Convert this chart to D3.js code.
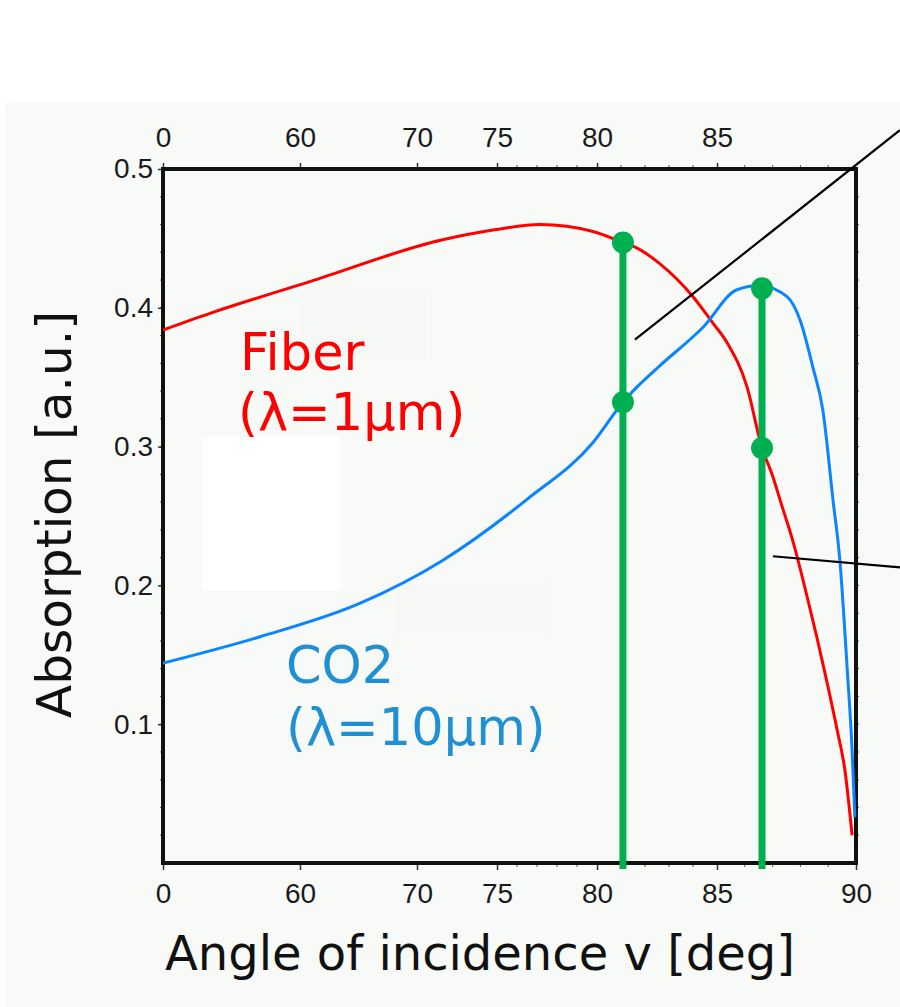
<!DOCTYPE html>
<html>
<head>
<meta charset="utf-8">
<script src="https://cdn.jsdelivr.net/npm/d3@7"></script>
<style>
  body { margin: 0; background: #fff; }
  svg { display: block; }
</style>
</head>
<body>
<script>
// tick labels on the (non linear) angle axis
const angleTicks = [0, 60, 70, 75, 80, 85, 90];
const angleMinor = [76, 77, 78, 79, 81, 82, 83, 84, 86, 87, 88, 89];
const absTicks = [0.1, 0.2, 0.3, 0.4, 0.5];

// Fiber laser (1 um)
const fiberAngle = [0, 20.6, 60.9, 71.6, 74.75, 77.15, 79.8, 81.08, 81.67, 82.6, 84.0, 84.83, 85.36, 86.08, 86.62, 86.98, 87.34, 87.7, 88.24, 88.6, 88.96, 89.32, 89.6, 89.86];
const fiberAbs   = [0.384, 0.396, 0.419, 0.449, 0.456, 0.460, 0.455, 0.447, 0.443, 0.432, 0.408, 0.389, 0.375, 0.343, 0.299, 0.280, 0.257, 0.234, 0.192, 0.162, 0.130, 0.096, 0.067, 0.020];

// CO2 laser (10 um)
const co2Angle = [0, 42.5, 65.1, 71.6, 76.5, 79.8, 81.08, 81.67, 82.6, 84.42, 85.72, 86.55, 87.52, 87.99, 88.45, 88.81, 89.17, 89.42, 89.68, 89.86, 89.96];
const co2Abs   = [0.144, 0.163, 0.187, 0.218, 0.262, 0.303, 0.332, 0.343, 0.358, 0.386, 0.413, 0.416, 0.408, 0.391, 0.357, 0.326, 0.262, 0.218, 0.141, 0.081, 0.033];

// green markers
const guideAngle = [81.08, 86.62];
const guideTop = [0.447, 0.414];
const markerAngle = [81.08, 81.08, 86.62, 86.62];
const markerAbs = [0.447, 0.332, 0.414, 0.299];

// black call-out lines (angle, absorption) start -> end
const calloutFrom = [[81.58, 0.377], [87.01, 0.221]];
const calloutTo = [[91.58, 0.528], [91.58, 0.213]];

const W = 900, H = 1007;
const plotL = 163, plotT = 169, plotR = 856, plotB = 863;
const pw = plotR - plotL;
const tickFrac = [0, 0.1977, 0.3665, 0.482, 0.6263, 0.7994, 1];

const svg = d3.select("body").append("svg").attr("width", W).attr("height", H);

svg.append("rect").attr("x", 5).attr("y", 103).attr("width", W - 5).attr("height", H - 103).attr("fill", "#f8faf8");
// patches left over in the picture
svg.append("rect").attr("x", 202).attr("y", 437).attr("width", 138).attr("height", 153).attr("fill", "#ffffff");
svg.append("rect").attr("x", 300).attr("y", 292).attr("width", 126).attr("height", 66).attr("fill", "#f6f8f6");
svg.append("rect").attr("x", 396).attr("y", 582).attr("width", 154).attr("height", 52).attr("fill", "#f6f8f6");

const x = d3.scaleLinear().domain(angleTicks).range(tickFrac.map(f => plotL + f * pw));
const y = d3.scaleLinear().domain([0, 0.5]).range([plotB, plotT]);

function styleAxis(g) {
    g.select(".domain").remove();
    g.selectAll(".tick line").attr("stroke", "#333").attr("stroke-width", 1.5);
    g.selectAll(".tick text").attr("fill", "#1a1a1a").style("font", "28px 'Liberation Sans', Arial, sans-serif");
}

// minor ticks
svg.append("g").selectAll("line").data(angleMinor).enter().append("line")
    .attr("x1", d => x(d)).attr("x2", d => x(d)).attr("y1", plotB).attr("y2", plotB + 4)
    .attr("stroke", "#555").attr("stroke-width", 1);
svg.append("g").selectAll("line").data(angleMinor).enter().append("line")
    .attr("x1", d => x(d)).attr("x2", d => x(d)).attr("y1", plotT).attr("y2", plotT - 4)
    .attr("stroke", "#555").attr("stroke-width", 1);
const absMinor = d3.range(0.02, 0.5, 0.02);
svg.append("g").selectAll("line").data(absMinor).enter().append("line")
    .attr("x1", plotL).attr("x2", plotL - 3).attr("y1", d => y(d)).attr("y2", d => y(d))
    .attr("stroke", "#555").attr("stroke-width", 1);
svg.append("g").selectAll("line").data(absMinor).enter().append("line")
    .attr("x1", plotR).attr("x2", plotR + 3).attr("y1", d => y(d)).attr("y2", d => y(d))
    .attr("stroke", "#555").attr("stroke-width", 1);

svg.append("g").attr("transform", `translate(0,${plotB})`)
    .call(d3.axisBottom(x).tickValues(angleTicks).tickFormat(d3.format("d")).tickSize(7).tickPadding(13))
    .call(styleAxis);
svg.append("g").attr("transform", `translate(0,${plotT})`)
    .call(d3.axisTop(x).tickValues(angleTicks.slice(0, -1)).tickFormat(d3.format("d")).tickSize(6).tickPadding(16))
    .call(styleAxis);
svg.append("g").attr("transform", `translate(${plotL},0)`)
    .call(d3.axisLeft(y).tickValues(absTicks).tickFormat(d3.format(".1f")).tickSize(5).tickPadding(5))
    .call(styleAxis);

// frame
svg.append("rect").attr("x", plotL).attr("y", plotT).attr("width", pw).attr("height", plotB - plotT)
    .attr("fill", "none").attr("stroke", "#111").attr("stroke-width", 4);

const curve = d3.line().x(d => x(d[0])).y(d => y(d[1])).curve(d3.curveMonotoneX);
const pairs = (a, v) => a.map((d, i) => [d, v[i]]);

svg.append("path").datum(pairs(fiberAngle, fiberAbs)).attr("d", curve)
    .attr("fill", "none").attr("stroke", "#ff0000").attr("stroke-width", 3);
svg.append("path").datum(pairs(co2Angle, co2Abs)).attr("d", curve)
    .attr("fill", "none").attr("stroke", "#0a84ff").attr("stroke-width", 3);

// call-out lines
svg.append("g").selectAll("line").data(calloutFrom).enter().append("line")
    .attr("x1", d => x(d[0])).attr("y1", d => y(d[1]))
    .attr("x2", (d, i) => x(calloutTo[i][0])).attr("y2", (d, i) => y(calloutTo[i][1]))
    .attr("stroke", "#000").attr("stroke-width", 2.2);

// green guides and dots
svg.append("g").selectAll("line").data(guideAngle).enter().append("line")
    .attr("x1", d => x(d)).attr("x2", d => x(d))
    .attr("y1", (d, i) => y(guideTop[i])).attr("y2", y(0) + 6)
    .attr("stroke", "#00b050").attr("stroke-width", 7);
svg.append("g").selectAll("circle").data(markerAngle).enter().append("circle")
    .attr("cx", d => x(d)).attr("cy", (d, i) => y(markerAbs[i])).attr("r", 11)
    .attr("fill", "#00b050");

// labels
const labelFont = "'DejaVu Sans', Verdana, sans-serif";
svg.append("text").attr("x", 240).attr("y", 370).attr("fill", "#ff0000")
    .style("font", `51px ${labelFont}`).text("Fiber");
svg.append("text").attr("x", 238).attr("y", 430).attr("fill", "#ff0000")
    .style("font", `51px ${labelFont}`).text("(λ=1μm)");
svg.append("text").attr("x", 286).attr("y", 683).attr("fill", "#2190d2")
    .style("font", `51px ${labelFont}`).text("CO2");
svg.append("text").attr("x", 286).attr("y", 745).attr("fill", "#2190d2")
    .style("font", `51px ${labelFont}`).text("(λ=10μm)");

svg.append("text").attr("x", 165).attr("y", 970).attr("fill", "#111")
    .style("font", `48px ${labelFont}`).text("Angle of incidence v [deg]");
svg.append("text").attr("transform", "translate(71,718) rotate(-90)").attr("fill", "#111")
    .style("font", `48.5px ${labelFont}`).text("Absorption [a.u.]");
</script>
</body>
</html>
